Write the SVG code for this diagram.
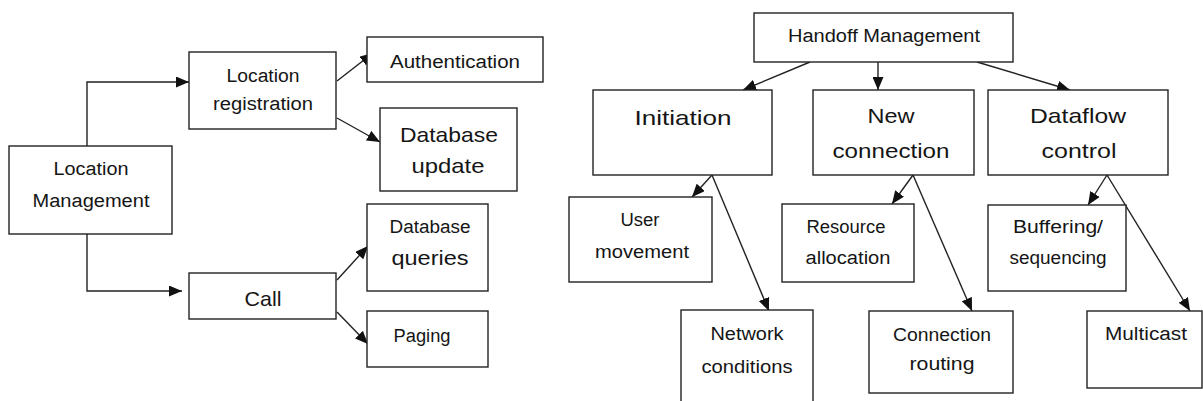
<svg xmlns="http://www.w3.org/2000/svg" width="1203" height="401" viewBox="0 0 1203 401">
  <style>
    .box { fill: #ffffff; stroke: #222222; stroke-width: 1.4; }
    .edge { fill: none; stroke: #222222; stroke-width: 1.4; marker-end: url(#arrow); }
    text { font-family: "Liberation Sans", Arial, sans-serif; fill: #151515; text-anchor: middle; }
    .s { font-size: 18px; }
    .l { font-size: 21px; }
  </style>
  <defs>
    <marker id="arrow" markerUnits="userSpaceOnUse" markerWidth="13" markerHeight="11" refX="13" refY="5.5" orient="auto">
      <path d="M0,0 L13,5.5 L0,11 z" fill="#111111"/>
    </marker>
  </defs>

  <rect width="1203" height="401" fill="#ffffff"/>

  <!-- connectors -->
  <g id="connectors">
    <polyline class="edge" points="87,146 87,82 189,82"/>
    <polyline class="edge" points="87,234 87,291 182,291"/>
    <line class="edge" x1="337" y1="81" x2="373" y2="53"/>
    <line class="edge" x1="337" y1="118" x2="380" y2="142"/>
    <line class="edge" x1="337" y1="280" x2="368" y2="246"/>
    <line class="edge" x1="337" y1="312" x2="368" y2="344"/>

    <line class="edge" x1="810" y1="62" x2="743" y2="90"/>
    <line class="edge" x1="878" y1="62" x2="878" y2="90"/>
    <line class="edge" x1="977" y1="62" x2="1070" y2="90"/>
    <line class="edge" x1="712" y1="175" x2="692" y2="197"/>
    <line class="edge" x1="712" y1="175" x2="769" y2="311"/>
    <line class="edge" x1="913" y1="175" x2="892" y2="204"/>
    <line class="edge" x1="913" y1="175" x2="972" y2="311"/>
    <line class="edge" x1="1107" y1="175" x2="1088" y2="205"/>
    <line class="edge" x1="1107" y1="175" x2="1190" y2="311"/>
  </g>

  <!-- location management tree -->
  <g id="location-management">
    <rect class="box" x="9" y="146" width="163" height="88"/>
    <text class="s" x="91" y="175" textLength="75" lengthAdjust="spacingAndGlyphs">Location</text>
    <text class="s" x="91" y="207" textLength="117" lengthAdjust="spacingAndGlyphs">Management</text>
  </g>
  <g id="location-registration">
    <rect class="box" x="189" y="52" width="147" height="77"/>
    <text class="s" x="263" y="82" textLength="73" lengthAdjust="spacingAndGlyphs">Location</text>
    <text class="s" x="263" y="110" textLength="100" lengthAdjust="spacingAndGlyphs">registration</text>
  </g>
  <g id="call">
    <rect class="box" x="189" y="273" width="147" height="46"/>
    <text class="l" x="263" y="306" textLength="37" lengthAdjust="spacingAndGlyphs">Call</text>
  </g>
  <g id="authentication">
    <rect class="box" x="367" y="37" width="176" height="45"/>
    <text class="s" x="455" y="68" textLength="130" lengthAdjust="spacingAndGlyphs">Authentication</text>
  </g>
  <g id="database-update">
    <rect class="box" x="380" y="108" width="137" height="83"/>
    <text class="l" x="449" y="142" textLength="98" lengthAdjust="spacingAndGlyphs">Database</text>
    <text class="l" x="448" y="173" textLength="73" lengthAdjust="spacingAndGlyphs">update</text>
  </g>
  <g id="database-queries">
    <rect class="box" x="367" y="204" width="121" height="87"/>
    <text class="s" x="430" y="233" textLength="81" lengthAdjust="spacingAndGlyphs">Database</text>
    <text class="l" x="430" y="265" textLength="77" lengthAdjust="spacingAndGlyphs">queries</text>
  </g>
  <g id="paging">
    <rect class="box" x="367" y="311" width="121" height="56"/>
    <text class="s" x="422" y="342" textLength="57" lengthAdjust="spacingAndGlyphs">Paging</text>
  </g>

  <!-- handoff management tree -->
  <g id="handoff-management">
    <rect class="box" x="754" y="13" width="259" height="49"/>
    <text class="s" x="884" y="42" textLength="192" lengthAdjust="spacingAndGlyphs">Handoff Management</text>
  </g>
  <g id="initiation">
    <rect class="box" x="593" y="90" width="179" height="85"/>
    <text class="l" x="683" y="125" textLength="97" lengthAdjust="spacingAndGlyphs">Initiation</text>
  </g>
  <g id="new-connection">
    <rect class="box" x="813" y="90" width="161" height="85"/>
    <text class="l" x="891" y="123" textLength="47" lengthAdjust="spacingAndGlyphs">New</text>
    <text class="l" x="891" y="158" textLength="117" lengthAdjust="spacingAndGlyphs">connection</text>
  </g>
  <g id="dataflow-control">
    <rect class="box" x="988" y="90" width="180" height="85"/>
    <text class="l" x="1078" y="123" textLength="96" lengthAdjust="spacingAndGlyphs">Dataflow</text>
    <text class="l" x="1079" y="158" textLength="75" lengthAdjust="spacingAndGlyphs">control</text>
  </g>
  <g id="user-movement">
    <rect class="box" x="569" y="197" width="143" height="85"/>
    <text class="s" x="640" y="226" textLength="39" lengthAdjust="spacingAndGlyphs">User</text>
    <text class="s" x="642" y="258" textLength="94" lengthAdjust="spacingAndGlyphs">movement</text>
  </g>
  <g id="network-conditions">
    <rect class="box" x="681" y="310" width="132" height="100"/>
    <text class="s" x="747" y="340" textLength="73" lengthAdjust="spacingAndGlyphs">Network</text>
    <text class="s" x="747" y="373" textLength="91" lengthAdjust="spacingAndGlyphs">conditions</text>
  </g>
  <g id="resource-allocation">
    <rect class="box" x="782" y="204" width="132" height="78"/>
    <text class="s" x="846" y="233" textLength="79" lengthAdjust="spacingAndGlyphs">Resource</text>
    <text class="s" x="848" y="264" textLength="85" lengthAdjust="spacingAndGlyphs">allocation</text>
  </g>
  <g id="connection-routing">
    <rect class="box" x="869" y="311" width="144" height="82"/>
    <text class="s" x="942" y="341" textLength="98" lengthAdjust="spacingAndGlyphs">Connection</text>
    <text class="s" x="942" y="370" textLength="65" lengthAdjust="spacingAndGlyphs">routing</text>
  </g>
  <g id="buffering-sequencing">
    <rect class="box" x="988" y="205" width="138" height="86"/>
    <text class="s" x="1058" y="233" textLength="90" lengthAdjust="spacingAndGlyphs">Buffering/</text>
    <text class="s" x="1058" y="264" textLength="97" lengthAdjust="spacingAndGlyphs">sequencing</text>
  </g>
  <g id="multicast">
    <rect class="box" x="1087" y="311" width="115" height="77"/>
    <text class="s" x="1146" y="340" textLength="82" lengthAdjust="spacingAndGlyphs">Multicast</text>
  </g>
</svg>
